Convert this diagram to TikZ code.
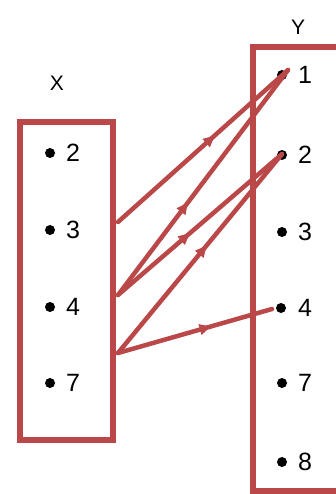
\documentclass[tikz,border=0pt]{standalone}
\usepackage{fontspec}
\setmainfont{Liberation Sans}
\usetikzlibrary{arrows.meta,decorations.markings}
\definecolor{boxred}{RGB}{186,72,72}
\tikzset{
  setbox/.style={draw=boxred,line width=6pt},
  dot/.style={circle,fill=black,inner sep=0pt,minimum size=10pt},
  lbl/.style={font=\fontsize{25}{25}\selectfont,anchor=west,inner sep=0pt},
  ttl/.style={font=\fontsize{21}{21}\selectfont,inner sep=0pt},
  maparrow/.style={draw=boxred,line width=4.5pt,line cap=round,
    postaction={decorate},
    decoration={markings,mark=at position #1 with {\arrow{Latex[length=14pt,width=12pt]}}}},
  maparrow/.default=0.55
}
\begin{document}
\begin{tikzpicture}[x=1pt,y=-1pt]
\useasboundingbox (0,0) rectangle (336,494);
% titles
\node[ttl] (tx) at (57,83) {X};
\node[ttl] (ty) at (298,27) {Y};
% boxes
\draw[setbox] (20,122) rectangle (113,440);
\draw[setbox] (253,47) rectangle (345,491);
% X elements
\node[dot] (x2) at (50,153) {};
\node[dot] (x3) at (50,230) {};
\node[dot] (x4) at (50,307) {};
\node[dot] (x7) at (50,383) {};
\node[lbl] (lx2) at (66,153) {2};
\node[lbl] (lx3) at (66,230) {3};
\node[lbl] (lx4) at (66,307) {4};
\node[lbl] (lx7) at (66,383) {7};
% Y elements
\node[dot] (y1) at (282,75) {};
\node[dot] (y2) at (282,155) {};
\node[dot] (y3) at (282,232) {};
\node[dot] (y4) at (281,308) {};
\node[dot] (y7) at (282,383) {};
\node[dot] (y8) at (282,462) {};
\node[lbl] (ly1) at (298,75) {1};
\node[lbl] (ly2) at (298,155) {2};
\node[lbl] (ly3) at (298,232) {3};
\node[lbl] (ly4) at (298,308) {4};
\node[lbl] (ly7) at (298,383) {7};
\node[lbl] (ly8) at (298,462) {8};
% start points on X box edge
\coordinate (s3) at (118,222);
\coordinate (s4) at (118,295);
\coordinate (s7) at (118,353);
\coordinate (e1) at (288,70);
\coordinate (e2) at (282,154);
\coordinate (e4) at (272,309);
% arrows
\draw[maparrow=0.58] (s3) -- (e1);
\draw[maparrow=0.42] (s4) -- (e1);
\draw[maparrow=0.45] (s4) -- (e2);
\draw[maparrow=0.55] (s7) -- (e2);
\draw[maparrow=0.62] (s7) -- (e4);
\end{tikzpicture}
\end{document}
